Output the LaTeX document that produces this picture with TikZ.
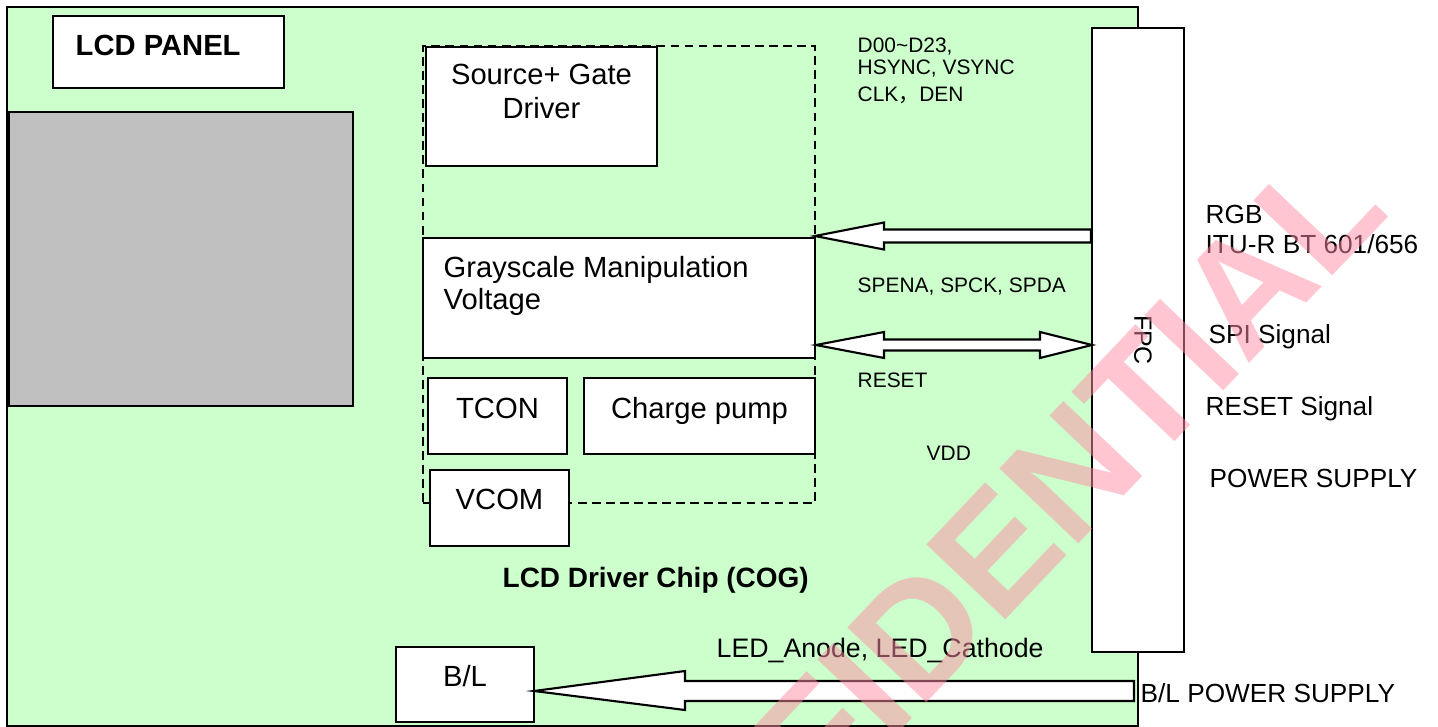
\documentclass[tikz,border=0pt]{standalone}
\usepackage{fontspec}
\setmainfont{Liberation Sans}
\newfontfamily\cjk{Noto Sans CJK SC}
\usetikzlibrary{fit}
\definecolor{boardgreen}{HTML}{CCFFCC}
\definecolor{panelgray}{HTML}{C0C0C0}
\definecolor{wmpink}{RGB}{255,140,165}
\begin{document}
\begin{tikzpicture}[x=0.01cm,y=-0.01cm,
  box/.style={draw=black, line width=0.6pt, fill=white, inner sep=0pt},
  dashbox/.style={draw=black, line width=0.6pt, dash pattern=on 2.5pt off 1.5pt, inner sep=0pt},
  harrow/.style={draw=black, line width=0.6pt, fill=white, line join=miter},
  tm/.style={inner sep=0pt, font=\fontsize{8.3}{10}\selectfont},
  tb/.style={inner sep=0pt, font=\fontsize{8.3}{10}\selectfont\bfseries},
  tb2/.style={inner sep=0pt, font=\fontsize{7.95}{10}\selectfont\bfseries},
  tmid/.style={inner sep=0pt, font=\fontsize{7.45}{9}\selectfont},
  tled/.style={inner sep=0pt, font=\fontsize{7.6}{9}\selectfont},
  ts/.style={inner sep=0pt, font=\fontsize{5.95}{7}\selectfont},
  tf/.style={inner sep=0pt, font=\fontsize{7.1}{8}\selectfont},
  wm/.style={inner sep=0pt, text=wmpink, text opacity=0.5, font=\fontsize{45}{50}\selectfont\bfseries}]
\useasboundingbox (0,0) rectangle (1438,727);
\fill[white] (0,0) rectangle (1438,727);

% board
\node[box, fill=boardgreen, fit={(7,7) (1138,726)}] (board) {};
\node[box, fit={(53,16) (284,88)}] (panelbox) {};
\node[box, fill=panelgray, fit={(9,112) (353,406)}] (panel) {};

% driver chip
\node[dashbox, fit={(423,46) (815,503)}] (chip) {};
\node[box, fit={(426,47) (657,166)}] (src) {};
\node[box, fit={(423,238) (815,358)}] (gsm) {};
\node[box, fit={(428,378) (567,454)}] (tcon) {};
\node[box, fit={(584,378) (815,454)}] (cp) {};
\node[box, fit={(430,470) (569,546)}] (vcom) {};

% FPC and B/L
\node[box, fit={(1092,28) (1184,652)}] (fpc) {};
\node[box, fit={(396,647) (534,722)}] (bl) {};

% arrow end points
\coordinate (a1tip) at (815,236);
\coordinate (a2l) at (816,345);
\coordinate (a2r) at (1092,345);
\coordinate (a3tip) at (534,691);

% RGB arrow (FPC -> grayscale)
\draw[harrow] (fpc.west |- 0,229.5) -- (884,229.5) -- (884,222.5) -- (a1tip)
  -- (884,249.5) -- (884,242.5) -- (fpc.west |- 0,242.5) -- cycle;
% SPI double arrow
\draw[harrow] (a2l) -- (884,332) -- (884,339.5) -- (1040,339.5) -- (1040,332) -- (a2r)
  -- (1040,358) -- (1040,350.5) -- (884,350.5) -- (884,358) -- cycle;
% B/L arrow
\draw[harrow] (a3tip) -- (685,671) -- (685,681) -- (1134,681) -- (1134,701) -- (685,701) -- (685,710) -- cycle;

% texts in boxes
\node[tb, anchor=base west] (lcdpanel) at (75,55) {LCD PANEL};
\node[tm, anchor=base] (srcl1) at (541.5,84) {Source+ Gate};
\node[tm, anchor=base] (srcl2) at (541.5,118) {Driver};
\node[tm, anchor=base west] (gsml1) at (443,277) {Grayscale Manipulation};
\node[tm, anchor=base west] (gsml2) at (443,309) {Voltage};
\node[tm, anchor=base] (tconl) at (497.5,418) {TCON};
\node[tm, anchor=base] (cpl) at (699.5,418) {Charge pump};
\node[tm, anchor=base] (vcoml) at (499.5,509) {VCOM};
\node[tb2, anchor=base west] (chipl) at (502,587) {LCD Driver Chip (COG)};
\node[tled, anchor=base west] (ledl) at (716,657) {LED\_Anode, LED\_Cathode};
\node[tm, anchor=base] (bll) at (465,686) {B/L};

% signal labels
\node[ts, anchor=base west] (sig1) at (857,52) {D00\textasciitilde D23,};
\node[ts, anchor=base west] (sig2) at (857,74) {HSYNC, VSYNC};
\node[ts, anchor=base west] (sig3) at (857,101) {CLK{\cjk ，}DEN};
\node[ts, anchor=base west] (spil) at (857,292) {SPENA, SPCK, SPDA};
\node[ts, anchor=base west] (rstl) at (857,387) {RESET};
\node[ts, anchor=base west] (vddl) at (926,460) {VDD};
\node[tf, rotate=-90] (fpcl) at (1143,340) {FPC};

% outside labels
\node[tmid, anchor=base west] (rgb1) at (1205,223) {RGB};
\node[tmid, anchor=base west] (rgb2) at (1205,253) {ITU-R BT 601/656};
\node[tmid, anchor=base west] (spisig) at (1208,343) {SPI Signal};
\node[tmid, anchor=base west] (rstsig) at (1205,415) {RESET Signal};
\node[tmid, anchor=base west] (pwr) at (1209,487) {POWER SUPPLY};
\node[tmid, anchor=base west] (blpwr) at (1140,702) {B/L POWER SUPPLY};

% watermark
\node[wm, rotate=46.5] (wmark) at (947,603) {CONFIDENTIAL};
\end{tikzpicture}
\end{document}
